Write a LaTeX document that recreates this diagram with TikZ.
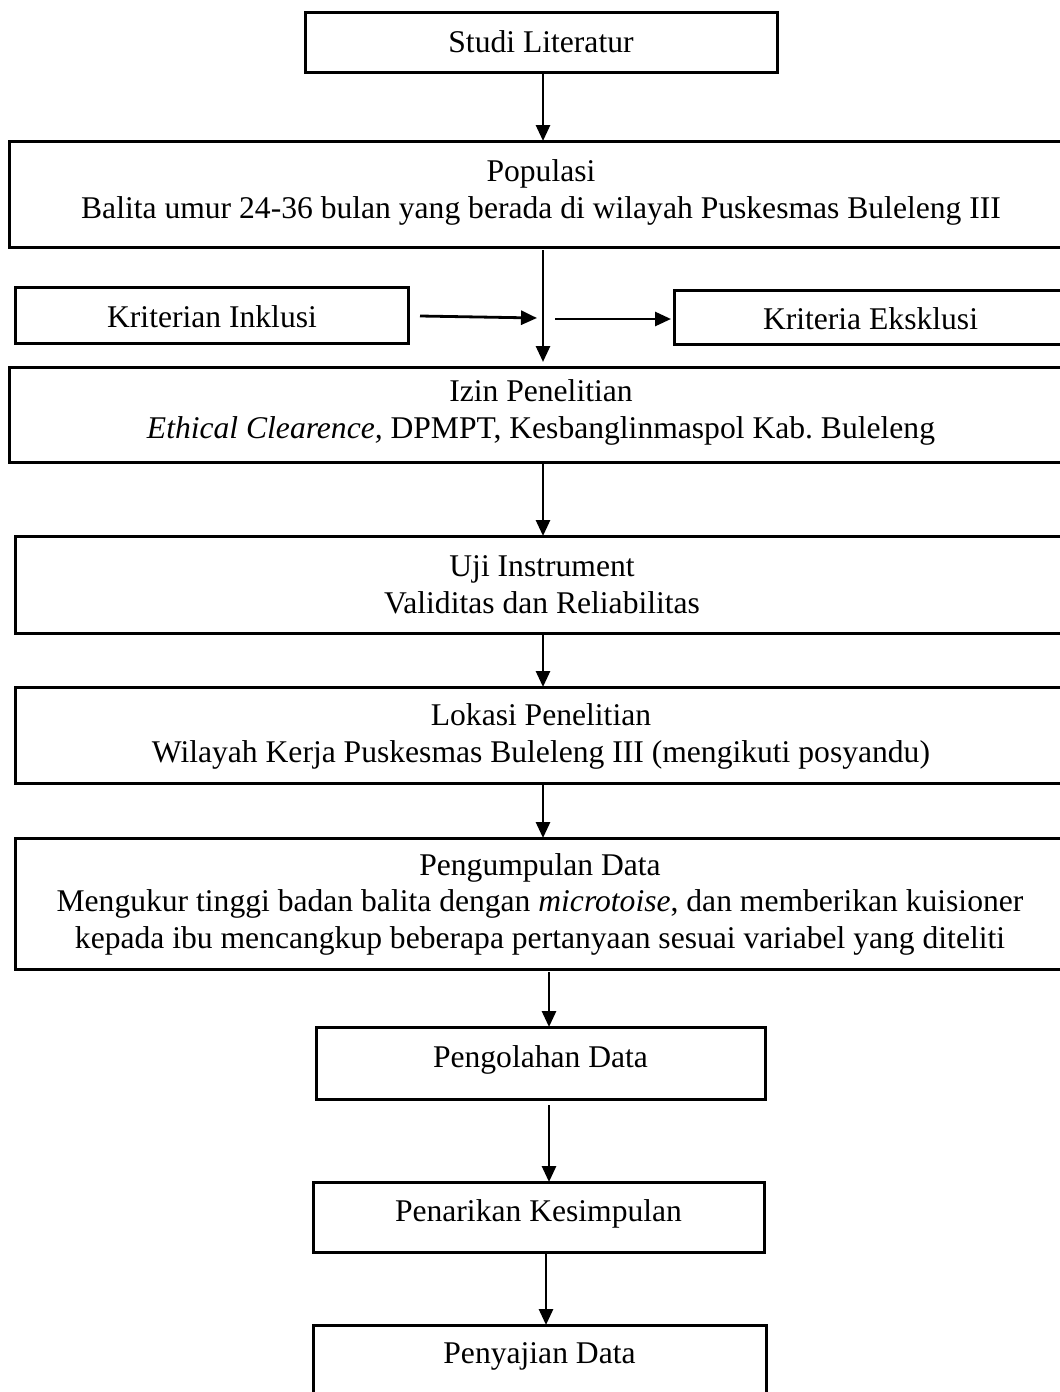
\documentclass[tikz,border=0pt]{standalone}
\usepackage{fontspec}
\setmainfont{Liberation Serif}
\usetikzlibrary{arrows.meta,calc}
\begin{document}
\frenchspacing
\begin{tikzpicture}[x=1pt,y=-1pt,
  box/.style={draw=black, line width=3pt, inner sep=0pt, outer sep=0pt},
  txt/.style={font=\fontsize{31.6}{36.5}\selectfont, align=center, inner sep=0pt, anchor=base},
  arr/.style={line width=2.8pt, -{Triangle[length=16pt,width=14pt]}}]
\useasboundingbox (0,0) rectangle (1060,1392);
\begin{scope}
\clip (0,0) rectangle (1060,1392);
% boxes
\node[box, minimum width=472pt, minimum height=60pt] (studi) at (541,42) {};
\node[box, minimum width=1064pt, minimum height=106pt] (pop) at (541,194) {};
\node[box, minimum width=393pt, minimum height=56pt] (kri) at (211.5,315) {};
\node[box, minimum width=393pt, minimum height=54pt] (eks) at (870.5,317) {};
\node[box, minimum width=1064pt, minimum height=95pt] (izin) at (541,414.5) {};
\node[box, minimum width=1054pt, minimum height=97pt] (uji) at (542,584.5) {};
\node[box, minimum width=1052pt, minimum height=96pt] (lok) at (541,735) {};
\node[box, minimum width=1050pt, minimum height=131pt] (pgd) at (540,903.5) {};
\node[box, minimum width=449pt, minimum height=72pt] (olah) at (540.5,1063) {};
\node[box, minimum width=451pt, minimum height=70pt] (tarik) at (538.5,1217) {};
\node[box, minimum width=453pt, minimum height=75pt] (saji) at (539.5,1362.5) {};
% texts (anchor=base is the baseline of the last line)
\node[txt] (studi-t) at (541,52) {Studi Literatur};
\node[txt] (pop-t) at (541,218) {Populasi\\Balita umur 24-36 bulan yang berada di wilayah Puskesmas Buleleng III};
\node[txt] (kri-t) at (212,327) {Kriterian Inklusi};
\node[txt] (eks-t) at (870.5,329) {Kriteria Eksklusi};
\node[txt] (izin-t) at (541,438) {Izin Penelitian\\\textit{Ethical Clearence,} DPMPT, Kesbanglinmaspol Kab. Buleleng};
\node[txt] (uji-t) at (542,613) {Uji Instrument\\Validitas dan Reliabilitas};
\node[txt] (lok-t) at (541,762) {Lokasi Penelitian\\Wilayah Kerja Puskesmas Buleleng III (mengikuti posyandu)};
\node[txt] (pgd-t) at (540,948) {Pengumpulan Data\\Mengukur tinggi badan balita dengan \textit{microtoise}, dan memberikan kuisioner\\kepada ibu mencangkup beberapa pertanyaan sesuai variabel yang diteliti};
\node[txt] (olah-t) at (540.5,1067) {Pengolahan Data};
\node[txt] (tarik-t) at (538.5,1221.7) {Penarikan Kesimpulan};
\node[txt] (saji-t) at (539.5,1363) {Penyajian Data};
% connectors
\draw[arr] (543,0 |- studi.south) -- (543,0 |- pop.north);
\draw[arr] ($(543,0 |- pop.south)+(0,3)$) -- ($(543,0 |- izin.north)+(0,-5)$);
\coordinate (j1) at (537,318);
\coordinate (j2) at (555,319);
\draw[arr] ($(kri.east)+(12,1)$) -- (j1);
\draw[arr] (j2) -- ($(eks.west)+(-3,2)$);
\draw[arr] (543,0 |- izin.south) -- (543,0 |- uji.north);
\draw[arr] (543,0 |- uji.south) -- (543,0 |- lok.north);
\draw[arr] (543,0 |- lok.south) -- (543,0 |- pgd.north);
\draw[arr] ($(549,0 |- pgd.south)+(0,3)$) -- (549,0 |- olah.north);
\draw[arr] ($(549,0 |- olah.south)+(0,6)$) -- (549,0 |- tarik.north);
\draw[arr] (546,0 |- tarik.south) -- (546,0 |- saji.north);
\end{scope}
\end{tikzpicture}
\end{document}
